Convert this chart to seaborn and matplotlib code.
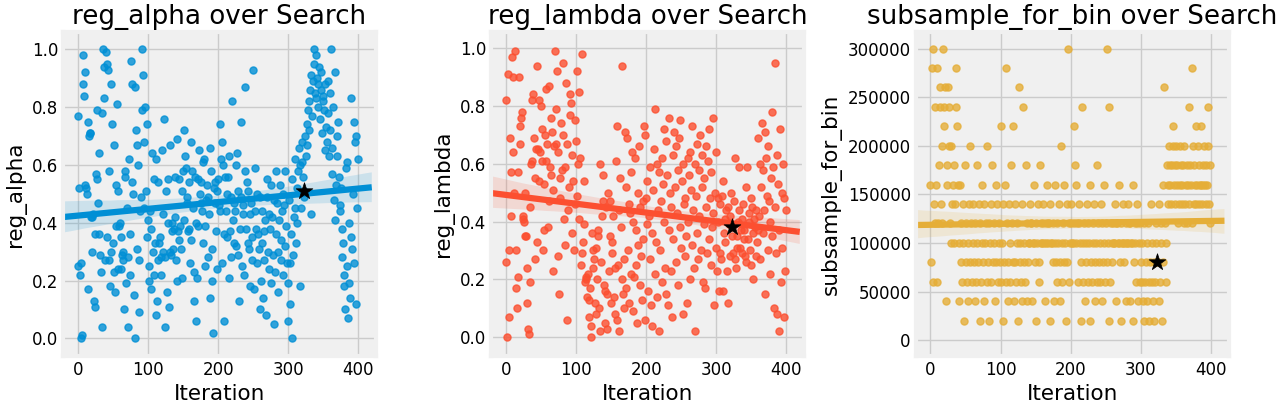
import numpy as np
import pandas as pd
import matplotlib
matplotlib.use("Agg")
import matplotlib.pyplot as plt
import seaborn as sns

plt.style.use("fivethirtyeight")

# reg_alpha values (hundredths), iteration order
reg_alpha_pct = [
    77, 25, 52, 22, 26, 0, 1, 88, 98, 84, 53, 92, 52, 50, 75, 17, 70, 71, 71, 42,
    30, 42, 43, 13, 11, 36, 57, 79, 55, 47, 64, 36, 29, 23, 78, 4, 100, 83, 94, 27,
    99, 95, 35, 93, 27, 58, 18, 88, 30, 74, 33, 23, 67, 16, 53, 39, 81, 24, 51, 39,
    40, 24, 35, 29, 27, 30, 10, 56, 58, 19, 45, 28, 4, 62, 22, 36, 96, 88, 54, 50,
    15, 87, 0, 72, 67, 31, 60, 27, 9, 44, 49, 79, 100, 91, 45, 68, 80, 51, 74, 35,
    41, 20, 25, 44, 17, 38, 64, 30, 55, 22, 33, 62, 8, 13, 27, 54, 33, 35, 28, 22,
    65, 30, 43, 76, 4, 28, 51, 16, 40, 55, 11, 30, 67, 29, 37, 40, 31, 38, 42, 56,
    27, 20, 69, 37, 34, 55, 39, 31, 51, 21, 58, 41, 72, 63, 59, 49, 47, 37, 38, 54,
    26, 68, 34, 58, 45, 23, 13, 56, 40, 6, 21, 39, 55, 65, 50, 54, 47, 44, 33, 61,
    62, 39, 25, 48, 53, 49, 28, 43, 14, 66, 58, 20, 31, 2, 52, 47, 54, 37, 24, 51,
    55, 46, 74, 44, 62, 68, 26, 60, 36, 6, 56, 44, 50, 35, 56, 21, 63, 37, 28, 49,
    82, 41, 47, 33, 44, 60, 32, 64, 51, 29, 13, 38, 75, 49, 25, 43, 46, 22, 87, 58,
    38, 54, 33, 51, 31, 43, 18, 47, 27, 35, 93, 17, 44, 59, 38, 26, 50, 36, 31, 10,
    49, 20, 33, 44, 14, 37, 27, 41, 8, 49, 55, 30, 43, 24, 38, 53, 19, 42, 29, 5,
    48, 23, 36, 58, 47, 30, 16, 41, 53, 27, 34, 44, 22, 50, 46, 32, 58, 39, 26, 19,
    6, 48, 12, 26, 36, 0, 55, 29, 42, 62, 45, 33, 52, 40, 58, 66, 60, 18, 45, 61,
    68, 56, 49, 51, 70, 63, 74, 67, 79, 72, 82, 86, 43, 91, 77, 89, 100, 95, 85, 83,
    98, 90, 88, 80, 94, 76, 86, 92, 71, 82, 84, 79, 65, 88, 73, 68, 78, 89, 63, 85,
    72, 100, 57, 66, 80, 48, 41, 92, 53, 70, 63, 75, 56, 46, 44, 52, 38, 28, 33, 18,
    22, 10, 59, 25, 61, 7, 40, 19, 14, 83, 35, 31, 50, 75, 26, 68, 70, 12, 45, 62,
]

# reg_lambda values (hundredths)
reg_lambda_pct = [
    82, 26, 0, 91, 7, 30, 69, 57, 42, 97, 64, 90, 50, 99, 30, 17, 10, 57, 21, 90,
    67, 73, 76, 78, 41, 42, 40, 50, 35, 35, 24, 12, 3, 1, 19, 45, 60, 61, 82, 84,
    69, 55, 27, 65, 94, 33, 65, 82, 54, 64, 80, 61, 72, 30, 37, 53, 70, 61, 86, 67,
    38, 87, 47, 59, 56, 76, 71, 23, 51, 66, 99, 79, 67, 92, 28, 64, 15, 55, 48, 74,
    58, 70, 95, 41, 32, 59, 88, 67, 6, 44, 52, 84, 77, 81, 36, 63, 54, 30, 75, 46,
    68, 92, 49, 60, 41, 85, 62, 25, 98, 29, 33, 54, 39, 19, 20, 21, 14, 22, 13, 7,
    17, 4, 0, 36, 30, 24, 27, 12, 31, 8, 20, 37, 35, 10, 60, 2, 26, 42, 56, 47,
    18, 5, 16, 45, 3, 15, 50, 23, 47, 35, 12, 29, 33, 42, 14, 24, 8, 61, 6, 73,
    25, 44, 2, 55, 38, 94, 20, 15, 27, 10, 71, 52, 17, 69, 30, 46, 12, 43, 22, 57,
    64, 9, 40, 21, 62, 25, 37, 5, 32, 50, 66, 18, 45, 28, 13, 47, 34, 73, 6, 70,
    48, 39, 54, 16, 42, 59, 27, 11, 36, 4, 51, 65, 22, 79, 33, 60, 14, 44, 2, 57,
    30, 47, 62, 19, 53, 40, 72, 24, 68, 15, 56, 11, 76, 37, 50, 23, 45, 7, 63, 34,
    71, 52, 26, 66, 43, 58, 18, 69, 38, 75, 31, 54, 60, 8, 46, 28, 48, 35, 12, 62,
    40, 56, 20, 64, 51, 32, 73, 44, 24, 60, 2, 49, 36, 67, 27, 58, 42, 70, 30, 52,
    63, 19, 39, 55, 17, 66, 45, 29, 61, 34, 72, 48, 25, 57, 38, 76, 43, 11, 50, 64,
    31, 23, 40, 48, 16, 46, 29, 27, 49, 54, 16, 36, 33, 41, 44, 23, 12, 45, 39, 28,
    42, 50, 35, 38, 29, 47, 27, 62, 24, 31, 35, 40, 44, 59, 31, 37, 41, 29, 46, 37,
    34, 28, 52, 26, 59, 34, 43, 40, 30, 25, 48, 45, 36, 20, 41, 38, 44, 28, 33, 37,
    69, 42, 27, 60, 52, 74, 36, 58, 44, 71, 15, 62, 49, 30, 66, 47, 40, 22, 55, 78,
    35, 59, 10, 45, 95, 29, 63, 8, 53, 37, 2, 72, 19, 50, 31, 60, 48, 7, 23, 44,
]

# subsample_for_bin values (thousands)
subsample_k = [
    160, 80, 280, 300, 60, 140, 240, 120, 160, 280, 60, 120, 180, 260, 240, 140, 200, 120, 300, 240,
    220, 260, 40, 180, 160, 260, 200, 240, 120, 100, 200, 140, 160, 180, 100, 140, 280, 240, 220, 160,
    100, 40, 160, 80, 120, 60, 140, 100, 20, 180, 80, 120, 60, 100, 40, 140, 200, 80, 120, 60,
    140, 100, 80, 40, 120, 60, 180, 100, 80, 140, 20, 120, 60, 100, 160, 80, 40, 140, 100, 120,
    60, 200, 80, 120, 20, 100, 140, 60, 180, 80, 120, 100, 40, 160, 80, 140, 60, 120, 100, 80,
    220, 60, 100, 20, 140, 80, 160, 280, 60, 120, 40, 80, 140, 100, 60, 180, 120, 80, 220, 40,
    80, 140, 60, 100, 120, 20, 260, 80, 100, 60, 140, 40, 240, 80, 100, 60, 180, 120, 40, 80,
    100, 100, 140, 120, 120, 40, 100, 160, 100, 80, 120, 20, 100, 140, 60, 80, 180, 100, 120, 100,
    140, 120, 100, 40, 120, 100, 160, 120, 100, 120, 20, 140, 100, 100, 80, 120, 40, 160, 100, 80,
    60, 120, 100, 140, 80, 40, 200, 100, 60, 120, 80, 160, 100, 20, 140, 80, 300, 60, 120, 100,
    120, 140, 100, 100, 120, 220, 180, 160, 100, 120, 60, 120, 140, 100, 20, 80, 240, 60, 100, 120,
    40, 100, 80, 140, 60, 120, 100, 20, 160, 80, 60, 120, 100, 140, 40, 80, 100, 60, 180, 120,
    80, 100, 60, 140, 120, 40, 80, 100, 160, 60, 120, 300, 80, 100, 20, 240, 60, 120, 100, 80,
    120, 100, 100, 140, 120, 40, 120, 100, 100, 160, 80, 20, 120, 100, 140, 100, 80, 100, 40, 120,
    100, 100, 140, 120, 120, 40, 100, 100, 160, 20, 80, 120, 100, 60, 140, 120, 40, 100, 120, 60,
    80, 60, 100, 40, 120, 20, 60, 80, 100, 40, 120, 60, 20, 80, 140, 60, 100, 40, 80, 20,
    60, 100, 120, 80, 80, 40, 140, 60, 100, 120, 20, 160, 80, 260, 120, 100, 60, 180, 140, 160,
    200, 180, 160, 140, 180, 200, 220, 160, 180, 140, 200, 160, 180, 120, 140, 200, 160, 180, 140, 160,
    180, 120, 200, 140, 160, 180, 120, 160, 240, 140, 180, 160, 280, 120, 200, 140, 180, 160, 220, 140,
    160, 200, 140, 180, 160, 160, 220, 140, 180, 160, 200, 160, 140, 180, 160, 240, 200, 140, 180, 120,
]

best_iteration = 323

panels = [
    ("reg_alpha", [v / 100 for v in reg_alpha_pct], "#008fd5", (-0.06, 1.06)),
    ("reg_lambda", [v / 100 for v in reg_lambda_pct], "#fc4f30", (-0.064, 1.056)),
    ("subsample_for_bin", [v * 1000 for v in subsample_k], "#e5ae38", (-16000, 317000)),
]

fig = plt.figure(figsize=(12.82, 4.07), dpi=100, facecolor="white")
lefts = [63 / 1282, 491 / 1282, 915.7 / 1282]
bottom = (407 - 355.7) / 407
height = (355.7 - 32) / 407
width = 313 / 1282

for left, (name, values, color, ylim) in zip(lefts, panels):
    ax = fig.add_axes([left, bottom, width, height])
    df = pd.DataFrame({"iteration": np.arange(len(values)), name: values})
    sns.regplot(data=df, x="iteration", y=name, ax=ax, color=color,
                truncate=False, scatter_kws={"s": 26}, line_kws={"linewidth": 4.5})
    ax.scatter(best_iteration, values[best_iteration], marker="*", s=160,
               color="k", zorder=5)
    ax.set_xlim(-21, 425)
    ax.set_ylim(*ylim)
    ax.set_xticks([0, 100, 200, 300, 400])
    ax.set_title(f"{name} over Search", fontsize=18.8)
    ax.set_xlabel("Iteration", fontsize=15.5)
    ax.set_ylabel(name, fontsize=15.5)
    ax.tick_params(labelsize=12)

fig.savefig("out.png", dpi=100, facecolor="white")
